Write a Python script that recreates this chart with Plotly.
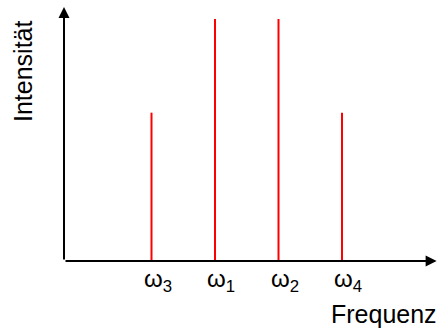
import plotly.graph_objects as go

# Data
labels = ["ω<sub>3</sub>", "ω<sub>1</sub>", "ω<sub>2</sub>", "ω<sub>4</sub>"]
freqs = [1, 2, 3, 4]
intens = [0.613, 1.0, 1.0, 0.613]
x_title = "Frequenz"
y_title = "Intensität"

FONT = "Liberation Sans, Arial, sans-serif"
fig = go.Figure()

xs, ys = [], []
for f, h in zip(freqs, intens):
    xs += [f, f, None]
    ys += [0, h, None]
fig.add_trace(go.Scatter(x=xs, y=ys, mode="lines",
                         line=dict(color="#ff0000", width=2),
                         hoverinfo="skip", showlegend=False))

X0, X1 = -0.378, 5.496
Y0, Y1 = 0.0, 1.0785

annotations = []
# axes arrows
annotations.append(dict(x=5.49, y=0, ax=X0, ay=0, xref="x", yref="y", axref="x", ayref="y",
                        text="", showarrow=True, arrowhead=2, arrowsize=1.1, arrowwidth=2,
                        arrowcolor="black"))
annotations.append(dict(x=X0, y=1.0496, ax=X0, ay=0, xref="x", yref="y", axref="x", ayref="y",
                        text="", showarrow=True, arrowhead=2, arrowsize=1.1, arrowwidth=2,
                        arrowcolor="black"))
for f, lab in zip(freqs, labels):
    annotations.append(dict(x=f, y=0, xref="x", yref="y", text=lab, showarrow=False,
                            xanchor="left", yanchor="top", xshift=-10, yshift=-2,
                            font=dict(family=FONT, size=24, color="black")))
annotations.append(dict(x=1, y=0, xref="paper", yref="y", text=x_title, showarrow=False,
                        xanchor="right", yanchor="top", xshift=2, yshift=-37,
                        font=dict(family=FONT, size=25, color="black")))
annotations.append(dict(x=0, y=0.785, xref="paper", yref="y", text=y_title, showarrow=False,
                        textangle=-90, xanchor="center", yanchor="middle", xshift=-41,
                        font=dict(family=FONT, size=25, color="black")))

fig.update_layout(
    width=437, height=329,
    margin=dict(l=64, r=0, t=0, b=68),
    paper_bgcolor="white", plot_bgcolor="white",
    xaxis=dict(range=[X0, X1], visible=False, fixedrange=True),
    yaxis=dict(range=[Y0, Y1], visible=False, fixedrange=True),
    annotations=annotations,
    showlegend=False,
)
fig.write_html("out.html")
